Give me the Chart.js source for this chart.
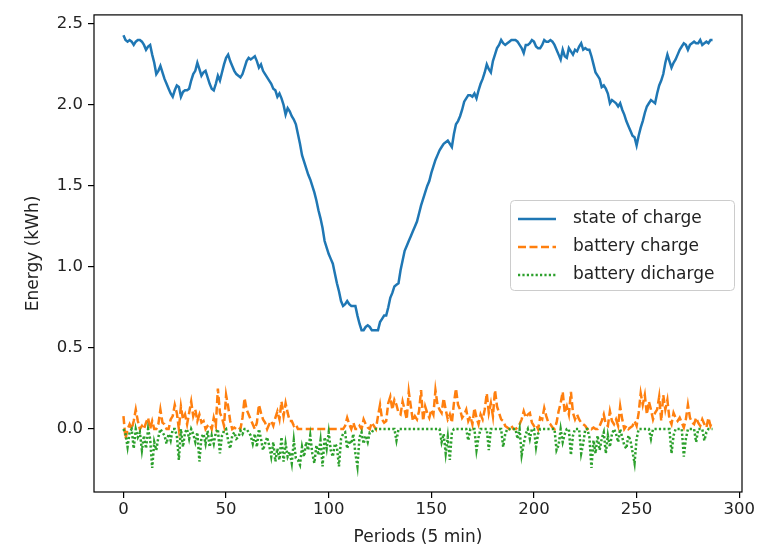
<!DOCTYPE html>
<html>
<head>
<meta charset="utf-8">
<script src="https://cdn.jsdelivr.net/npm/chart.js"></script>
<style>
	body { margin: 0; background: #fff; }
	#wrap { width: 762px; height: 552px; }
</style>
</head>
<body>
<div id="wrap"><canvas id="myChart" width="762" height="552"></canvas></div>
<script>
// periods 0..287 (5 min steps over one day)
const periods = Array.from({ length: 288 }, (_, i) => i);

const stateOfCharge = [
	2.43, 2.40, 2.39, 2.40, 2.39, 2.37, 2.39, 2.40, 2.40, 2.39, 2.37, 2.34,
	2.36, 2.37, 2.31, 2.26, 2.19, 2.21, 2.24, 2.20, 2.16, 2.13, 2.10, 2.07,
	2.05, 2.09, 2.12, 2.11, 2.05, 2.08, 2.09, 2.09, 2.10, 2.15, 2.19, 2.21,
	2.26, 2.22, 2.18, 2.20, 2.21, 2.17, 2.13, 2.10, 2.09, 2.13, 2.18, 2.15,
	2.20, 2.25, 2.29, 2.31, 2.27, 2.24, 2.21, 2.19, 2.18, 2.17, 2.19, 2.23,
	2.27, 2.29, 2.28, 2.29, 2.30, 2.27, 2.23, 2.25, 2.21, 2.19, 2.17, 2.15,
	2.13, 2.10, 2.09, 2.05, 2.07, 2.04, 2.00, 1.94, 1.98, 1.96, 1.93, 1.91,
	1.88, 1.82, 1.76, 1.69, 1.65, 1.61, 1.57, 1.54, 1.50, 1.46, 1.41, 1.35,
	1.30, 1.24, 1.16, 1.12, 1.08, 1.05, 1.02, 0.96, 0.90, 0.85, 0.79, 0.76,
	0.77, 0.79, 0.77, 0.76, 0.76, 0.76, 0.70, 0.65, 0.61, 0.61, 0.63, 0.64,
	0.63, 0.61, 0.61, 0.61, 0.61, 0.66, 0.68, 0.70, 0.70, 0.75, 0.81, 0.84,
	0.88, 0.89, 0.90, 0.98, 1.04, 1.10, 1.13, 1.16, 1.19, 1.22, 1.25, 1.28,
	1.33, 1.38, 1.42, 1.46, 1.50, 1.53, 1.58, 1.62, 1.66, 1.69, 1.72, 1.74,
	1.76, 1.77, 1.78, 1.76, 1.74, 1.82, 1.88, 1.90, 1.93, 1.97, 2.02, 2.04,
	2.06, 2.06, 2.05, 2.07, 2.04, 2.09, 2.13, 2.16, 2.20, 2.25, 2.22, 2.20,
	2.27, 2.31, 2.35, 2.37, 2.40, 2.38, 2.37, 2.38, 2.39, 2.40, 2.40, 2.40,
	2.39, 2.37, 2.35, 2.32, 2.37, 2.37, 2.38, 2.40, 2.39, 2.36, 2.35, 2.35,
	2.37, 2.40, 2.39, 2.39, 2.40, 2.39, 2.37, 2.34, 2.31, 2.28, 2.34, 2.30,
	2.29, 2.35, 2.33, 2.31, 2.34, 2.33, 2.36, 2.38, 2.34, 2.35, 2.34, 2.34,
	2.30, 2.25, 2.20, 2.18, 2.16, 2.11, 2.12, 2.10, 2.07, 2.01, 2.03, 2.02,
	2.01, 1.99, 2.01, 1.97, 1.94, 1.90, 1.87, 1.84, 1.81, 1.80, 1.75, 1.81,
	1.86, 1.90, 1.95, 1.99, 2.01, 2.03, 2.02, 2.01, 2.07, 2.12, 2.15, 2.19,
	2.26, 2.31, 2.27, 2.23, 2.26, 2.28, 2.31, 2.34, 2.36, 2.38, 2.37, 2.34,
	2.37, 2.38, 2.39, 2.38, 2.38, 2.40, 2.37, 2.38, 2.39, 2.38, 2.40, 2.40
];

const batteryCharge = [
	0.08, -0.06, 0.00, 0.03, 0.00, 0.05, 0.12, 0.05, 0.00, 0.02, 0.00, 0.04,
	0.07, 0.00, 0.05, 0.00, 0.00, 0.03, 0.12, 0.04, 0.03, 0.00, 0.00, 0.06,
	0.08, 0.15, 0.10, 0.00, 0.14, 0.06, 0.09, 0.03, 0.10, 0.17, 0.08, 0.12,
	0.05, 0.09, 0.04, 0.05, 0.00, 0.02, 0.03, 0.00, 0.07, 0.02, 0.25, 0.10,
	0.07, 0.02, 0.21, 0.14, 0.05, 0.00, 0.01, 0.00, 0.01, 0.00, 0.07, 0.19,
	0.12, 0.09, 0.06, 0.03, 0.00, 0.04, 0.15, 0.10, 0.06, 0.04, 0.00, 0.03,
	0.05, 0.02, 0.07, 0.11, 0.06, 0.17, 0.08, 0.16, 0.10, 0.05, 0.05, 0.02,
	0.03, 0.00, 0.00, 0.00, 0.00, 0.00, 0.00, 0.00, 0.00, 0.00, 0.00, 0.00,
	0.00, 0.00, 0.00, 0.00, 0.00, 0.00, 0.00, 0.00, 0.00, 0.00, 0.00, 0.00,
	0.02, 0.07, 0.03, 0.00, 0.04, 0.00, 0.00, 0.02, 0.00, 0.06, 0.03, 0.01,
	0.00, 0.04, 0.02, 0.00, 0.08, 0.15, 0.06, 0.04, 0.05, 0.16, 0.20, 0.12,
	0.18, 0.15, 0.10, 0.09, 0.17, 0.12, 0.06, 0.23, 0.14, 0.05, 0.08, 0.06,
	0.11, 0.24, 0.05, 0.14, 0.10, 0.07, 0.12, 0.09, 0.24, 0.15, 0.12, 0.10,
	0.19, 0.12, 0.06, 0.09, 0.04, 0.16, 0.25, 0.15, 0.12, 0.07, 0.09, 0.12,
	0.05, 0.08, 0.03, 0.13, 0.07, 0.03, 0.09, 0.06, 0.12, 0.22, 0.10, 0.16,
	0.08, 0.24, 0.14, 0.10, 0.06, 0.05, 0.02, 0.01, 0.00, 0.02, 0.00, 0.00,
	0.01, 0.03, 0.06, 0.11, 0.07, 0.09, 0.10, 0.04, 0.02, 0.03, 0.00, 0.07,
	0.06, 0.13, 0.08, 0.04, 0.03, 0.01, 0.00, 0.04, 0.11, 0.16, 0.23, 0.10,
	0.14, 0.09, 0.23, 0.10, 0.06, 0.09, 0.06, 0.04, 0.03, 0.02, 0.00, 0.01,
	0.00, 0.01, 0.00, 0.00, 0.02, 0.05, 0.09, 0.03, 0.02, 0.11, 0.05, 0.03,
	0.06, 0.02, 0.14, 0.06, 0.00, 0.02, 0.00, 0.01, 0.02, 0.05, 0.02, 0.10,
	0.22, 0.15, 0.21, 0.09, 0.17, 0.12, 0.06, 0.10, 0.12, 0.20, 0.05, 0.21,
	0.12, 0.18, 0.06, 0.03, 0.10, 0.07, 0.05, 0.07, 0.04, 0.01, 0.06, 0.15,
	0.07, 0.04, 0.03, 0.07, 0.04, 0.02, 0.06, 0.03, 0.01, 0.07, 0.02, 0.05
];

const batteryDischarge = [
	0.00, -0.03, -0.11, -0.02, 0.00, -0.12, 0.00, -0.05, -0.02, -0.13, -0.04, -0.12,
	0.00, -0.06, -0.24, -0.08, -0.13, -0.05, 0.00, -0.02, -0.04, -0.09, -0.03, -0.07,
	0.00, 0.00, -0.04, -0.19, 0.00, -0.11, -0.02, 0.00, -0.06, 0.00, -0.03, -0.08,
	-0.02, -0.20, -0.05, -0.03, -0.09, -0.01, -0.11, -0.04, -0.09, -0.02, 0.00, -0.15,
	-0.04, -0.01, 0.00, -0.07, -0.12, -0.04, -0.02, -0.06, -0.05, -0.01, -0.03, 0.00,
	0.00, -0.02, -0.04, -0.09, -0.03, -0.11, 0.00, -0.06, -0.13, -0.09, -0.05, -0.10,
	-0.17, -0.08, -0.20, -0.12, -0.19, -0.05, -0.20, -0.09, -0.17, -0.14, -0.21, -0.07,
	-0.18, -0.19, -0.22, -0.11, -0.17, -0.08, -0.13, -0.04, -0.15, -0.21, -0.10, -0.16,
	-0.07, -0.23, -0.05, -0.12, -0.02, -0.13, -0.17, -0.09, -0.11, -0.23, -0.06, -0.03,
	-0.02, -0.12, -0.07, -0.09, -0.03, -0.15, -0.23, -0.05, -0.02, -0.09, -0.04, -0.08,
	-0.02, -0.02, 0.00, 0.00, 0.00, 0.00, 0.00, 0.00, 0.00, 0.00, 0.00, 0.00,
	0.00, -0.07, 0.00, 0.00, 0.00, 0.00, 0.00, 0.00, 0.00, 0.00, 0.00, 0.00,
	0.00, 0.00, 0.00, 0.00, 0.00, 0.00, 0.00, 0.00, 0.00, 0.00, 0.00, -0.08,
	-0.03, -0.15, -0.05, -0.19, -0.02, 0.00, 0.00, 0.00, 0.00, 0.00, 0.00, 0.00,
	-0.07, 0.00, 0.00, 0.00, -0.13, -0.05, 0.00, 0.00, 0.00, 0.00, -0.13, 0.00,
	0.00, 0.00, 0.00, 0.00, 0.00, -0.11, -0.03, 0.00, 0.00, 0.00, 0.00, 0.00,
	-0.06, 0.00, -0.16, -0.09, -0.03, 0.00, -0.06, 0.00, 0.00, -0.11, -0.03, 0.00,
	0.00, 0.00, 0.00, 0.00, 0.00, 0.00, 0.00, -0.13, -0.10, 0.00, -0.08, -0.03,
	0.00, 0.00, -0.16, -0.04, 0.00, 0.00, 0.00, -0.15, -0.09, 0.00, 0.00, -0.05,
	-0.24, -0.07, -0.15, -0.04, -0.13, -0.06, -0.02, -0.15, -0.04, -0.11, -0.03, 0.00,
	-0.03, -0.08, 0.00, -0.05, -0.10, -0.12, -0.04, -0.07, -0.14, -0.21, -0.06, 0.00,
	0.00, 0.00, 0.00, 0.00, 0.00, -0.06, 0.00, 0.00, 0.00, 0.00, 0.00, 0.00,
	0.00, 0.00, 0.00, -0.15, -0.04, 0.00, 0.00, 0.00, 0.00, -0.17, -0.06, 0.00,
	0.00, 0.00, 0.00, -0.08, 0.00, 0.00, 0.00, -0.07, -0.02, 0.00, 0.00, 0.00
];

const xTicks = [0, 50, 100, 150, 200, 250, 300];
const yTicks = [0.0, 0.5, 1.0, 1.5, 2.0, 2.5];
const seriesNames = ["state of charge", "battery charge", "battery dicharge"];

const FONT = "'DejaVu Sans', sans-serif";

// frame around the plot + legend inside the axes (matplotlib look)
const framePlugin = {
	id: "frame",
	afterDraw(chart) {
		const ctx = chart.ctx;
		const a = chart.chartArea;
		ctx.save();
		ctx.strokeStyle = "#000";
		ctx.lineWidth = 1.2;
		ctx.strokeRect(a.left, a.top, a.right - a.left, a.bottom - a.top);

		// legend box
		const bx = 510, by = 200, bw = 224, bh = 90;
		ctx.fillStyle = "rgba(255,255,255,0.8)";
		ctx.strokeStyle = "#cccccc";
		ctx.lineWidth = 1;
		ctx.beginPath();
		ctx.roundRect(bx + 0.5, by + 0.5, bw, bh, 4);
		ctx.fill();
		ctx.stroke();

		ctx.font = "17px " + FONT;
		ctx.textBaseline = "middle";
		ctx.fillStyle = "#333";
		chart.data.datasets.forEach((ds, i) => {
			const y = by + 19 + i * 28;
			ctx.strokeStyle = ds.borderColor;
			ctx.lineWidth = ds.borderWidth;
			ctx.setLineDash(ds.borderDash || []);
			ctx.beginPath();
			ctx.moveTo(bx + 8, y);
			ctx.lineTo(bx + 46, y);
			ctx.stroke();
			ctx.setLineDash([]);
			ctx.fillStyle = "#222";
			ctx.fillText(ds.label, bx + 63, y);
		});
		ctx.restore();
	}
};

var ctx = document.getElementById("myChart").getContext("2d");
var chart = new Chart(ctx, {
	type: "line",
	data: {
		labels: periods,
		datasets: [
			{
				label: seriesNames[0],
				data: stateOfCharge,
				borderColor: "#1f77b4",
				borderWidth: 2.5,
				pointRadius: 0,
				order: 3
			},
			{
				label: seriesNames[1],
				data: batteryCharge,
				borderColor: "#ff7f0e",
				borderWidth: 2.5,
				borderDash: [8, 3.5],
				pointRadius: 0,
				order: 2
			},
			{
				label: seriesNames[2],
				data: batteryDischarge,
				borderColor: "#2ca02c",
				borderWidth: 2.5,
				borderDash: [2.2, 2.2],
				pointRadius: 0,
				order: 1
			}
		]
	},
	options: {
		responsive: false,
		animation: false,
		layout: { padding: { left: 0, right: 20, top: 7, bottom: 0 } },
		plugins: {
			legend: { display: false },
			tooltip: { enabled: false }
		},
		scales: {
			x: {
				type: "linear",
				min: -14.35,
				max: 301.35,
				afterBuildTicks: (scale) => {
					scale.ticks = xTicks.map((v) => ({ value: v }));
				},
				afterFit: (scale) => {
					scale.height = 60;
				},
				grid: { drawOnChartArea: false, drawTicks: true, tickLength: 6, color: "#000", lineWidth: 1.2 },
				border: { display: false },
				ticks: {
					color: "#222",
					font: { family: FONT, size: 16.5 },
					padding: 2,
					maxRotation: 0,
					callback: (v) => String(v)
				},
				title: {
					display: true,
					text: "Periods (5 min)",
					color: "#222",
					font: { family: FONT, size: 17 },
					padding: { top: 0, bottom: 4 }
				}
			},
			y: {
				min: -0.388,
				max: 2.555,
				afterBuildTicks: (scale) => {
					scale.ticks = yTicks.map((v) => ({ value: v }));
				},
				afterFit: (scale) => {
					scale.width = 94;
				},
				grid: { drawOnChartArea: false, drawTicks: true, tickLength: 6, color: "#000", lineWidth: 1.2 },
				border: { display: false },
				ticks: {
					color: "#222",
					font: { family: FONT, size: 16.5 },
					padding: 5,
					callback: (v) => v.toFixed(1)
				},
				title: {
					display: true,
					text: "Energy (kWh)",
					color: "#222",
					font: { family: FONT, size: 17 },
					padding: { top: 23, bottom: 0 }
				}
			}
		}
	},
	plugins: [framePlugin]
});
</script>
</body>
</html>
